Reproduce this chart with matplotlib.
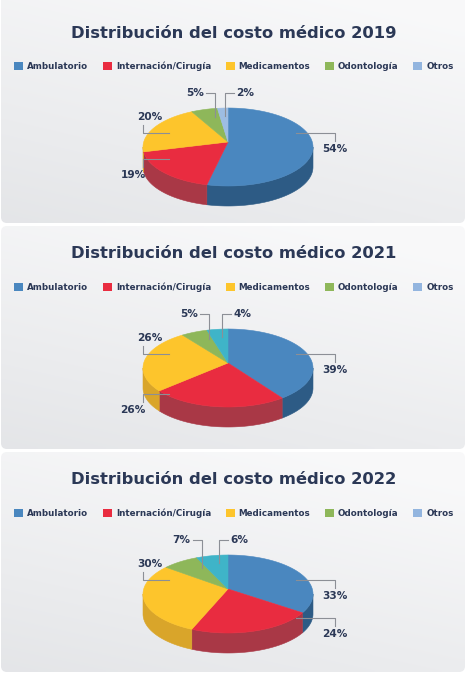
import numpy as np
import matplotlib
matplotlib.use('Agg')
from matplotlib import pyplot as plt
from matplotlib.patches import Polygon, FancyBboxPatch, Patch
from matplotlib.legend import Legend

CATEGORIES = ['Ambulatorio', 'Internación/Cirugía', 'Medicamentos', 'Odontología', 'Otros']
YEARS = [2019, 2021, 2022]
SHARES_2019 = [54, 19, 20, 5, 2]
SHARES_2021 = [39, 26, 26, 5, 4]
SHARES_2022 = [33, 24, 30, 7, 6]
TITLE = 'Distribución del costo médico {}'

NAVY = '#2b3856'
LINE_GREY = '#8c8f96'
TOP_COLORS = ['#4a87bf', '#e92c40', '#fdc52c', '#8eb75a', '#3fb4c8']
SIDE_COLORS = ['#2d5b85', '#a93846', '#d9a52a', '#6f9446', '#2f8a99']
LEGEND_COLORS = ['#4a87bf', '#e92c40', '#fdc52c', '#8eb75a', '#93b5df']
OTROS_2019 = '#9dbde2'

W, H = 468, 675
RX, RY, DEPTH, LIFT = 85, 39, 20, 5


def rim(cx, cy, theta):
    t = np.radians(theta)
    return cx + RX * np.cos(t), cy - RY * np.sin(t)


def panel_background(ax, y0, y1):
    box = FancyBboxPatch((1, y0), W - 4, y1 - y0, boxstyle='round,pad=0,rounding_size=6',
                         facecolor='none', edgecolor='none')
    ax.add_patch(box)
    xn, yn = np.meshgrid(np.linspace(0, 1, 60), np.linspace(0, 1, 60))
    g = np.clip(0.35 * (1 - xn) + 0.75 * yn - 0.1, 0, 1)[..., None]
    light = np.array([0.975, 0.976, 0.98])
    dark = np.array([0.895, 0.9, 0.91])
    img = light * (1 - g) + dark * g
    im = ax.imshow(img, extent=(1, W - 3, y1, y0), origin='upper', aspect='auto',
                   interpolation='bilinear', zorder=0)
    im.set_clip_path(box)


def draw_pie(ax, shares, cx, cy, top_colors, side_colors):
    total = float(sum(shares))
    spans = []
    start = 90.0
    for v in shares:
        end = start - 360.0 * v / total
        spans.append((end, start))
        start = end

    # front wall, only the part facing us (angles -180..0)
    for (a, b), c in zip(spans, side_colors):
        lo, hi = max(a, -180), min(b, 0)
        if hi <= lo:
            continue
        ts = np.linspace(lo, hi, 80)
        x, y = rim(cx, cy, ts)
        pts = np.r_[np.c_[x, y], np.c_[x, y + DEPTH][::-1]]
        ax.add_patch(Polygon(pts, closed=True, facecolor=c, edgecolor=c, lw=0.4, zorder=2))

    for (a, b), c in zip(spans, top_colors):
        ts = np.linspace(a, b, 120)
        x, y = rim(cx, cy, ts)
        pts = np.r_[[[cx, cy - LIFT]], np.c_[x, y]]
        ax.add_patch(Polygon(pts, closed=True, facecolor=c, edgecolor=c, lw=0.4, zorder=3))
    return spans


def draw_labels(ax, shares, spans, cx, cy):
    kw = dict(color=NAVY, fontsize=7.6, fontweight='bold', va='center', zorder=5)
    for i, (v, (a, b)) in enumerate(zip(shares, spans)):
        mid = (a + b) / 2.0
        c, s = np.cos(np.radians(mid)), np.sin(np.radians(mid))
        txt = '{}%'.format(v)
        if s > 0.8:
            px = cx + 0.55 * RX * c
            py = cy - 0.8 * RY * s
            ly = cy - RY - 15
            sign = 1 if i == len(shares) - 1 else -1
            ax.plot([px, px, px + 9 * sign], [py, ly, ly], color=LINE_GREY, lw=0.8, zorder=4)
            ax.text(px + 11 * sign, ly, txt, ha='left' if sign > 0 else 'right', **kw)
        else:
            right = c > 0
            low = s < -0.4
            px = cx + (0.8 if right else -0.7) * RX
            py = cy - 14 - (40 * s if low else 0)
            ex = cx + RX + 22 if right else cx - RX
            d = 1 if (right or low) else -1
            ax.plot([px, ex, ex], [py, py, py + 8 * d], color=LINE_GREY, lw=0.8, zorder=4)
            dx = 0 if right else (-10 if d > 0 else 7)
            ax.text(ex + dx, py + 16 * d, txt, ha='center', **kw)


fig = plt.figure(figsize=(W / 100, H / 100), dpi=100, facecolor='white')
ax = fig.add_axes([0, 0, 1, 1])
ax.axis('off')

panels = [(-10, 223), (226, 449), (452, 672)]
bases = [5, 226, 452]
all_shares = [SHARES_2019, SHARES_2021, SHARES_2022]

for year, shares, (y0, y1), base in zip(YEARS, all_shares, panels, bases):
    panel_background(ax, y0, y1)
    ax.text(W / 2, base + 28, TITLE.format(year), ha='center', va='center',
            fontsize=11.8, fontweight='bold', color=NAVY)

    handles = [Patch(facecolor=col, edgecolor='none') for col in LEGEND_COLORS]
    leg = Legend(ax, handles, CATEGORIES, ncol=5, loc='center', frameon=False,
                 bbox_to_anchor=(W / 2, base + 61), bbox_transform=ax.transData,
                 fontsize=6.3, handlelength=1.0, handleheight=1.0, handletextpad=0.45,
                 columnspacing=1.7, borderaxespad=0, borderpad=0)
    for t in leg.get_texts():
        t.set_color(NAVY)
        t.set_fontweight('bold')
    ax.add_artist(leg)

    top = list(TOP_COLORS)
    if year == 2019:
        top[-1] = OTROS_2019
    cx, cy = 228, base + 142
    spans = draw_pie(ax, shares, cx, cy, top, SIDE_COLORS)
    draw_labels(ax, shares, spans, cx, cy)

ax.set_xlim(0, W)
ax.set_ylim(H, 0)
fig.savefig('out.png', dpi=100, facecolor='white')
